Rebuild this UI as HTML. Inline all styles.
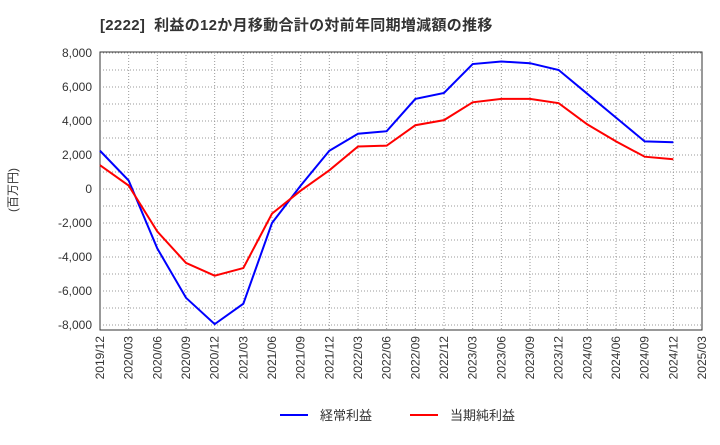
<!DOCTYPE html>
<html><head><meta charset="utf-8"><style>
body{margin:0;background:#fff;font-family:"Liberation Sans","Noto Sans CJK JP",sans-serif}
svg text{font-family:"Liberation Sans","Noto Sans CJK JP",sans-serif}
</style></head><body>
<svg id="c" width="720" height="440" xmlns="http://www.w3.org/2000/svg">
<text x="100" y="30" font-size="15" font-weight="bold" fill="#333" letter-spacing="0.3" xml:space="preserve">[2222]  利益の12か月移動合計の対前年同期増減額の推移</text>
<text transform="translate(17,190) rotate(-90)" text-anchor="middle" font-size="12" fill="#333">(百万円)</text>
<g id="grid"></g><g id="axes"></g><g id="series"></g>
<g>
<line x1="280" y1="415" x2="308" y2="415" stroke="#0000ff" stroke-width="2"/>
<text x="320" y="420" font-size="13" fill="#333">経常利益</text>
<line x1="410" y1="415" x2="438" y2="415" stroke="#ff0000" stroke-width="2"/>
<text x="450" y="420" font-size="13" fill="#333">当期純利益</text>
</g>
</svg>
<script>
const categories=["2019/12","2020/03","2020/06","2020/09","2020/12","2021/03","2021/06","2021/09","2021/12","2022/03","2022/06","2022/09","2022/12","2023/03","2023/06","2023/09","2023/12","2024/03","2024/06","2024/09","2024/12","2025/03"];
const ordinaryProfit=[2250,500,-3500,-6400,-7950,-6750,-2000,200,2250,3250,3400,5300,5650,7350,7500,7400,7000,5600,4200,2800,2750];
const netProfit=[1400,200,-2500,-4350,-5100,-4650,-1450,-100,1100,2500,2550,3750,4050,5100,5300,5300,5050,3800,2800,1900,1750];
const yTicks=[8000,6000,4000,2000,0,-2000,-4000,-6000,-8000];
const NS="http://www.w3.org/2000/svg";
const L=100,R=702,T=52,B=330;
const x=i=>L+(R-L)*i/(categories.length-1);
const y=v=>53+(8000-v)*272/16000;
function mk(p,t,a){const e=document.createElementNS(NS,t);for(const k in a)e.setAttribute(k,a[k]);p.appendChild(e);return e;}
const grid=document.getElementById('grid'),axes=document.getElementById('axes'),ser=document.getElementById('series');
mk(grid,'rect',{x:L,y:T,width:R-L,height:B-T,fill:'#fff',stroke:'#333'});
for(let v=-8000;v<=8000;v+=1000){const l=mk(grid,'line',{x1:L,x2:R,y1:y(v),y2:y(v),stroke:'#999','stroke-dasharray':'1,2'});

}
categories.forEach((c,i)=>{if(i>0&&i<categories.length-1){const l=mk(grid,'line',{x1:x(i),x2:x(i),y1:T,y2:B,stroke:'#999','stroke-dasharray':'1,2'});

}
const t=mk(axes,'text',{transform:`translate(${x(i)+4},${B+6}) rotate(-90)`,'text-anchor':'end','font-size':12,fill:'#333'});t.textContent=c;

});
yTicks.forEach(v=>{const t=mk(axes,'text',{x:L-8,y:y(v)+4,'text-anchor':'end','font-size':12,fill:'#333'});t.textContent=v.toLocaleString('en-US');

});
function line(d,col,name){const p=mk(ser,'polyline',{points:d.map((v,i)=>x(i)+','+y(v)).join(' '),fill:'none',stroke:col,'stroke-width':2});

}
line(ordinaryProfit,'#0000ff','ordinary-profit-line');
line(netProfit,'#ff0000','net-profit-line');
</script>
</body></html>
